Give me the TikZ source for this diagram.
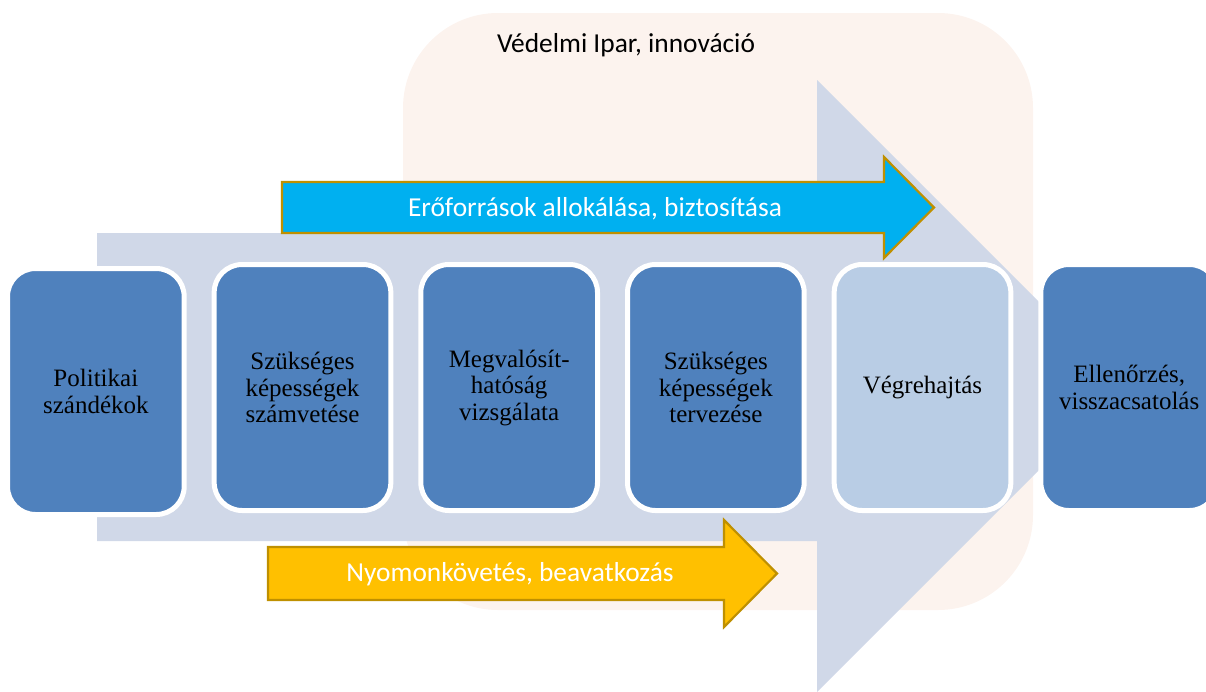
\documentclass[tikz,border=0pt]{standalone}
\usepackage{fontspec}
\setmainfont{Liberation Serif}
\newfontfamily\calibri{Carlito}
\usetikzlibrary{positioning}
\definecolor{stageblue}{HTML}{4F81BD}
\definecolor{stagelight}{HTML}{B9CDE5}
\definecolor{flowgrey}{HTML}{D0D8E8}
\definecolor{industry}{HTML}{FCF3EE}
\definecolor{resource}{HTML}{00B0F0}
\definecolor{monitor}{HTML}{FFC000}
\definecolor{goldline}{HTML}{BF9000}

\begin{document}
\begin{tikzpicture}[x=1pt,y=-1pt,node distance=30pt]
  \tikzstyle{stage}=[rectangle,rounded corners=28pt,draw=white,line width=5pt,
                     fill=stageblue,minimum width=176pt,minimum height=246pt,
                     outer sep=0pt,text width=170pt,align=center,
                     font=\fontsize{25}{26.5}\selectfont]
  \tikzstyle{banner}=[text=white,font=\calibri\fontsize{27.4}{30}\selectfont]
  \tikzstyle{bar}=[draw=goldline,line width=2.2pt,line join=miter]

  \useasboundingbox (0,0) rectangle (1206,691);
  \clip (0,0) rectangle (1206,691);

  % background field
  \fill[industry,rounded corners=95pt] (403,13) rectangle (1033,610);
  \node[font=\calibri\fontsize{27.4}{30}\selectfont] (ipar) at (626,45)
       {Védelmi Ipar, innováció};

  % big process arrow
  \fill[flowgrey] (97,233) -- (817,233) -- (817,80) -- (1123,386)
                  -- (817,692) -- (817,541) -- (97,541) -- cycle;

  % side arrows
  \draw[bar,fill=resource] (282,182) -- (884,182) -- (884,157) -- (934,207.5)
                  -- (884,258) -- (884,233) -- (282,233) -- cycle;
  \node[banner] (eroforras) at (595,209) {Erőforrások allokálása, biztosítása};

  \draw[bar,fill=monitor] (268,547) -- (724,547) -- (724,520) -- (777,573.5)
                  -- (724,627) -- (724,600) -- (268,600) -- cycle;
  \node[banner] (nyomon) at (510,574) {Nyomonkövetés, beavatkozás};

  % stages
  \node[stage] (s2) at (302.5,387.5) {Szükséges\\képességek\\számvetése};
  \node[stage] (s1) [left=of s2,yshift=-4pt] {Politikai\\szándékok};
  \node[stage] (s3) [right=of s2] {Megvalósít-\\hatóság\\vizsgálata};
  \node[stage] (s4) [right=of s3] {Szükséges\\képességek\\tervezése};
  \node[stage,fill=stagelight] (s5) [right=of s4] {Végrehajtás};
  \node[stage] (s6) [right=of s5] {Ellenőrzés,\\visszacsatolás};
\end{tikzpicture}
\end{document}
